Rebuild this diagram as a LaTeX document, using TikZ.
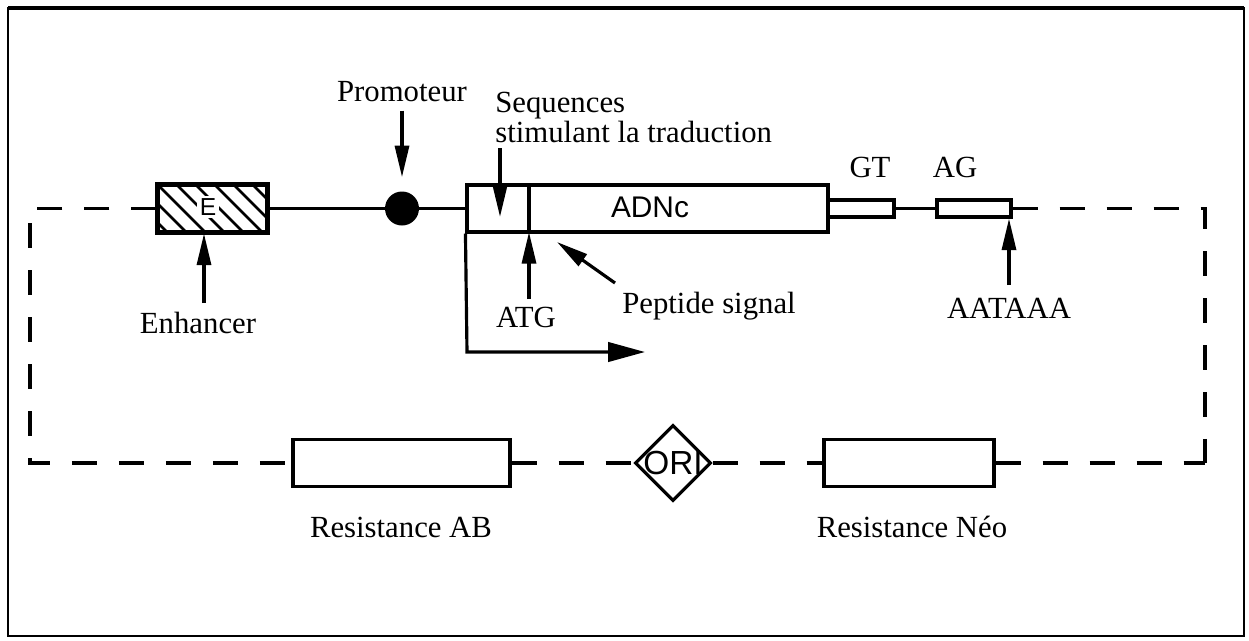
\documentclass[tikz,border=0pt]{standalone}
\usepackage{fontspec}
\setmainfont{Liberation Serif}
\setsansfont{Liberation Sans}
\usetikzlibrary{shapes.geometric,arrows.meta}
\begin{document}
\begin{tikzpicture}[x=0.02cm,y=-0.02cm,
  ln/.style={line width=1.8pt},
  boxst/.style={draw,line width=1.8pt,rectangle,inner sep=0pt,fill=white},
  dsh/.style={line width=1.9pt,dash pattern=on 0.5cm off 0.44cm},
  lbl/.style={font=\fontsize{17.5}{17}\selectfont,inner sep=0pt},
  sans/.style={font=\sffamily\fontsize{14}{14}\selectfont,inner sep=0pt},
  arr/.style={line width=1.8pt,-{Triangle[length=18pt,width=8pt]}},
  bigarr/.style={line width=1.8pt,-{Triangle[length=21pt,width=11pt]}},
]
\useasboundingbox (0,0) rectangle (1249,640);
% outer frame
\draw[line width=1.4pt] (8,8) rectangle (1244,636);
\draw[line width=2.4pt] (8,8) -- (1244,8);

% enhancer box with hatching
\node[boxst,minimum width=2.18cm,minimum height=0.94cm] (enh) at (212.5,208.5) {};
\begin{scope}
  \clip (enh.south west) rectangle (enh.north east);
  \foreach \k in {-57,-38,...,130} \draw[line width=1.6pt] (158+\k,185) -- (205+\k,232);
\end{scope}
\draw[line width=1.8pt] (enh.south west) rectangle (enh.north east);
\node[sans,fill=white,inner sep=1.5pt] (eltr) at (208,207) {E};

% promoter
\node[circle,fill=black,minimum size=0.68cm,inner sep=0pt] (prom) at (402,208.5) {};

% ADNc box
\node[boxst,minimum width=7.22cm,minimum height=0.94cm] (adn) at (647.5,208.5) {};
\node[sans,font=\sffamily\fontsize{17}{17}\selectfont] (adnl) at (650,207) {ADNc};
\coordinate (divt) at (529,185);
\coordinate (divb) at (529,232);
\draw[ln] (divt) -- (divb);

% GT / AG boxes
\node[boxst,minimum width=1.32cm,minimum height=0.34cm] (gt) at (861,208.5) {};
\node[boxst,minimum width=1.48cm,minimum height=0.34cm] (ag) at (974,208.5) {};

% solid connectors
\draw[ln] (enh.east) -- (prom.west);
\draw[ln] (prom.east) -- (adn.west);
\draw[ln] (gt.east) -- (ag.west);

% bottom elements
\node[boxst,minimum width=4.34cm,minimum height=0.94cm] (resab) at (401.5,463) {};
\node[diamond,draw,line width=1.8pt,fill=white,minimum size=1.52cm,inner sep=0pt] (ori) at (673,463) {};
\node[font=\sffamily\fontsize{19}{19}\selectfont,inner sep=0pt] (oril) at (ori) {ORI};
\node[boxst,minimum width=3.4cm,minimum height=0.94cm] (resneo) at (909,463) {};

% dashed loop
\coordinate (c1) at (30,208.5);
\coordinate (c2) at (30,463);
\coordinate (c3) at (1205,463);
\coordinate (c4) at (1205,208.5);
\draw[dsh] (enh.west) -- (c1) -- (c2) -- (resab.west);
\draw[dsh] (resab.east) -- (ori.west);
\draw[dsh] (ori.east) -- (resneo.west);
\draw[dsh] (ag.east) -- (c4) -- (c3);
\draw[dsh] (resneo.east) -- (c3);

% bent arrow
\coordinate (bend) at (467,352);
\coordinate (bendend) at (645,352);
\draw[bigarr] (adn.south west) -- (bend) -- (bendend);

% labels
\node[lbl,anchor=base] (promlbl) at (402,101) {Promoteur};
\draw[arr,shorten <=0.18cm,shorten >=0.28cm] (promlbl.south) -- (prom.north);

\node[lbl,anchor=base west] (seq1) at (495,112) {Sequences};
\node[lbl,anchor=base west] (seq2) at (495,142) {stimulant la traduction};
\coordinate (seqA) at (500,148);
\coordinate (seqB) at (500,217);
\draw[arr] (seqA) -- (seqB);

\node[lbl,anchor=base] (atg) at (526,327) {ATG};
\coordinate (atgA) at (529,299);
\draw[arr] (atgA) -- (divb);

\node[lbl,anchor=base] (pep) at (709,313) {Peptide signal};
\coordinate (pepA) at (615,283);
\coordinate (pepB) at (557,242);
\draw[arr] (pepA) -- (pepB);

\node[lbl,anchor=base] (enhl) at (198,333) {Enhancer};
\coordinate (enhA) at (204,303);
\draw[arr] (enhA) -- (enhA |- enh.south);

\node[lbl,anchor=base] (aat) at (1009,318) {AATAAA};
\coordinate (aatA) at (1009,285);
\draw[arr] (aatA) -- (aatA |- ag.south);

\node[lbl,anchor=base] (gtl) at (870,177) {GT};
\node[lbl,anchor=base] (agl) at (955,177) {AG};

\node[lbl,anchor=base] (resabl) at (401,537) {Resistance AB};
\node[lbl,anchor=base] (resneol) at (912,537) {Resistance Néo};
\end{tikzpicture}
\end{document}
